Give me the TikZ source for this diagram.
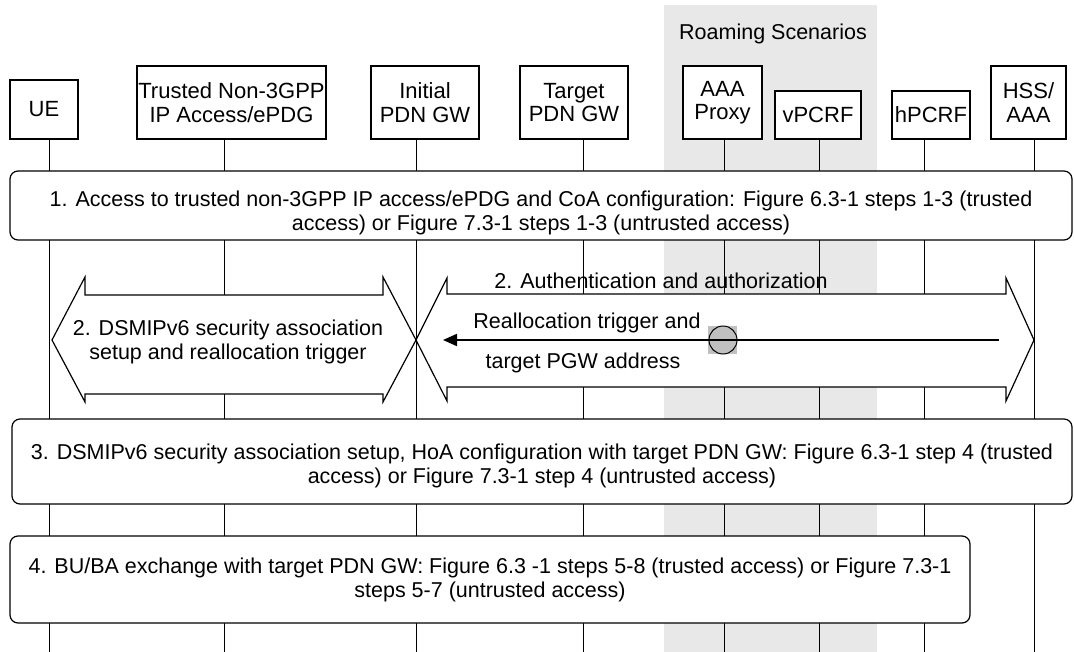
\documentclass[tikz,border=0pt]{standalone}
\usepackage{fontspec}
\setmainfont{Liberation Sans}
\usetikzlibrary{arrows.meta,positioning}

\definecolor{roamgray}{HTML}{E8E8E8}
\definecolor{markgray}{HTML}{C0C0C0}

\begin{document}
\begin{tikzpicture}[x=1pt,y=-1pt,
  entity/.style={rectangle,draw,line width=1.2pt,fill=white,align=center,
                 inner sep=0pt,font=\fontsize{22}{23.5}\selectfont},
  stepbox/.style={rectangle,draw,line width=1.2pt,fill=white,
                  rounded corners=8pt,inner sep=0pt},
  lifeline/.style={line width=1pt},
  fatarrow/.style={draw,line width=1.2pt,fill=white,line join=miter},
  txt/.style={align=center,inner sep=0pt,font=\fontsize{21.5}{24}\selectfont},
  msg/.style={-{Triangle[length=14pt,width=12pt]},line width=2pt},
]
  \useasboundingbox (0,0) rectangle (1074,652);

  % Roaming area
  \fill[roamgray] (664,5) rectangle (877,652);
  \node[txt] (roam) at (773,34) {Roaming Scenarios};

  % Lifelines
  \foreach \n/\x in {ue/49,ngpp/224,ipgw/416,tpgw/583,proxy/724,vpcrf/819,hpcrf/924,hss/1034}{
    \coordinate (\n top) at (\x,139);
    \coordinate (\n bot) at (\x,652);
    \draw[lifeline] (\n top) -- (\n bot);
  }

  % Entities
  \node[entity,minimum width=68pt,minimum height=59pt]  (ue)    at (44,109.5)   {UE};
  \node[entity,minimum width=189pt,minimum height=73pt] (ngpp)  at (231.5,102.5) {Trusted Non-3GPP\\IP Access/ePDG};
  \node[entity,minimum width=108pt,minimum height=73pt] (ipgw)  at (425,102.5)  {Initial\\PDN GW};
  \node[entity,minimum width=108pt,minimum height=73pt] (tpgw)  at (574,102.5)  {Target\\PDN GW};
  \node[entity,minimum width=79pt,minimum height=73pt]  (proxy) at (722.5,102.5) {AAA\\Proxy};
  \node[entity,minimum width=86pt,minimum height=48pt]  (vpcrf) at (818,115)    {vPCRF};
  \node[entity,minimum width=78pt,minimum height=48pt]  (hpcrf) at (931,115)    {hPCRF};
  \node[entity,minimum width=75pt,minimum height=73pt]  (hss)   at (1028.5,102.5) {HSS/\\AAA};

  % Step 1
  \node[stepbox,minimum width=1062pt,minimum height=69pt] (step1) at (541,205.5) {};
  \node[txt,yshift=-7pt] (step1 txt) at (step1.center)
    {1. Access to trusted non-3GPP IP access/ePDG and CoA configuration: Figure 6.3-1 steps 1-3 (trusted\\access) or Figure 7.3-1 steps 1-3 (untrusted access)};

  % Step 2
  \draw[fatarrow] (52,340) -- (85,277) -- (85,295) -- (383,295) -- (383,277) -- (416,340)
    -- (383,402) -- (383,394) -- (85,394) -- (85,402) -- cycle;
  \draw[fatarrow] (416,340) -- (447,278) -- (447,294) -- (1006,294) -- (1006,278) -- (1034,340)
    -- (1006,401) -- (1006,387) -- (447,387) -- (447,401) -- cycle;

  \node[txt] (dsmip) at (228,342) {2. DSMIPv6 security association\\setup and reallocation trigger};
  \node[txt] (auth)  at (661,281) {2. Authentication and authorization};
  \node[txt] (trig)  at (587,323) {Reallocation trigger and};
  \node[txt] (addr)  at (583,363) {target PGW address};

  % Reallocation trigger
  \fill[markgray] (708,326) rectangle (737,354);
  \node[circle,draw,line width=1pt,fill=markgray,minimum size=28pt,inner sep=0pt] (mark) at (723,340) {};
  \coordinate (msg from) at (999,340);
  \coordinate (msg to) at (443,340);
  \draw[msg] (msg from) -- (msg to);

  % Steps 3 and 4
  \node[stepbox,minimum width=1060pt,minimum height=85pt] (step3) at (542,461.5) {};
  \node[txt,yshift=-4pt] (step3 txt) at (step3.center)
    {3. DSMIPv6 security association setup, HoA configuration with target PDN GW: Figure 6.3-1 step 4 (trusted\\access) or Figure 7.3-1 step 4 (untrusted access)};
  \node[stepbox,minimum width=960pt,minimum height=87pt] (step4) at (490,579.5) {};
  \node[txt] (step4 txt) at (step4.center)
    {4. BU/BA exchange with target PDN GW: Figure 6.3 -1 steps 5-8 (trusted access) or Figure 7.3-1\\steps 5-7 (untrusted access)};
\end{tikzpicture}
\end{document}
